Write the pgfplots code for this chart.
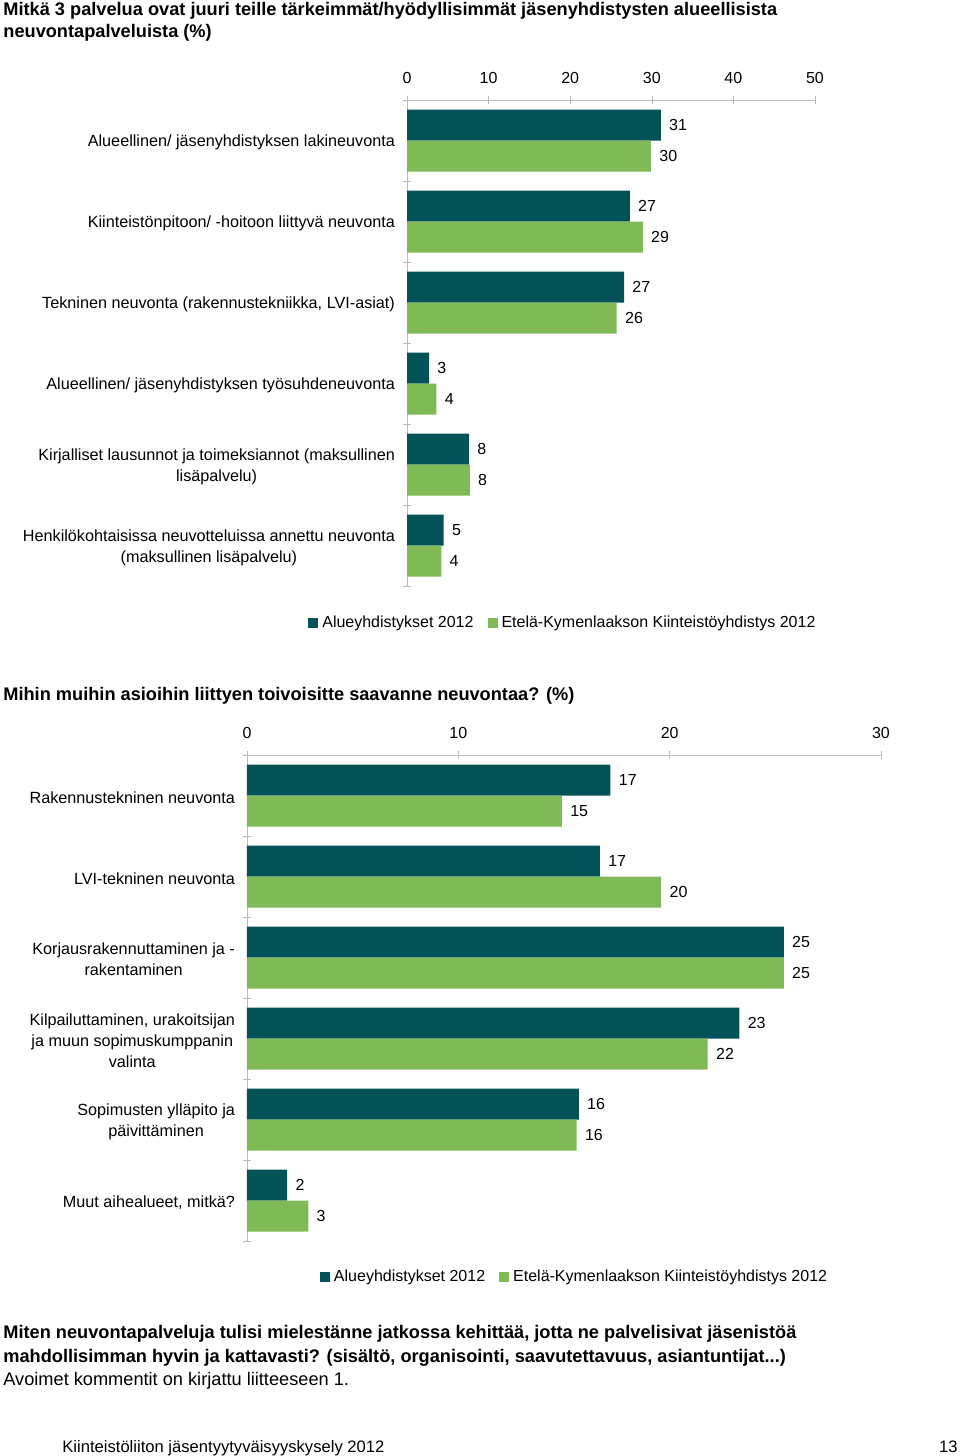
\documentclass[border=0pt]{standalone}
\usepackage{fontspec}
\setmainfont{Liberation Sans}
\usepackage{pgfplots}
\pgfplotsset{compat=1.18}
\definecolor{dk}{RGB}{3,82,88}
\definecolor{lt}{RGB}{128,186,86}
\definecolor{axc}{RGB}{185,185,185}
\newcommand\lf{\fontsize{8}{10.5}\selectfont}
\newcommand\cf{\fontsize{8.1}{10.5}\selectfont}
\newcommand\tf{\fontsize{9.1}{11.5}\selectfont\bfseries}
\newcommand\rf{\fontsize{9.1}{11.5}\selectfont}
\pgfplotsset{
 mybar/.style={
  xbar, scale only axis, bar width=15.5pt,
  axis x line*=top, axis y line*=left,
  axis line style={axc},
  ymin=-0.5, ymax=5.5, xmin=0,
  ytick={0,...,5},
  major y tick style={draw=none},
  minor ytick={-0.5,0.5,...,5.5},
  minor y tick style={axc},
  x tick style={axc},
  tick align=center,
  major tick length=4pt, minor tick length=4pt,
  tick label style={font=\lf},
  xticklabel style={yshift=2.5pt},
  /pgf/number format/assume math mode=true,
  yticklabel style={align=center, xshift=-0.5pt, yshift=-1pt, font=\cf},
  nodes near coords, point meta=explicit symbolic,
  nodes near coords style={font=\lf, anchor=west, inner sep=0pt, xshift=4pt},
  every axis plot/.append style={draw=none},
  legend style={draw=none, font=\lf, legend columns=2, inner sep=0pt,
    /tikz/every even column/.append style={column sep=5pt}},
  legend image code/.code={\fill[##1] (0pt,-2.5pt) rectangle (5pt,2.5pt);},
  clip=false,
 }
}
\begin{document}
\begin{tikzpicture}
\path (0,0) rectangle (480pt,-728pt);
\node[anchor=base west, inner sep=0pt, font=\tf] at (1.5pt,-8pt)
 {Mitkä 3 palvelua ovat juuri teille tärkeimmät/hyödyllisimmät jäsenyhdistysten alueellisista};
\node[anchor=base west, inner sep=0pt, font=\tf] at (1.5pt,-18.75pt)
 {neuvontapalveluista (\%)};

\begin{axis}[mybar,
  at={(203.5pt,-50pt)}, anchor=north west,
  width=204pt, height=243pt,
  xmax=50, xtick={0,10,...,50},
  yticklabels={{Henkilökohtaisissa neuvotteluissa annettu neuvonta\\(maksullinen lisäpalvelu)},
               {Kirjalliset lausunnot ja toimeksiannot (maksullinen\\lisäpalvelu)},
               {Alueellinen/ jäsenyhdistyksen työsuhdeneuvonta},
               {Tekninen neuvonta (rakennustekniikka, LVI-asiat)},
               {Kiinteistönpitoon/ -hoitoon liittyvä neuvonta},
               {Alueellinen/ jäsenyhdistyksen lakineuvonta}},
  legend style={at={(1.012,-0.076)}, anchor=east},
]
\addplot[fill=dk, bar shift=7.75pt] coordinates {(31.1,5) [31] (27.3,4) [27] (26.6,3) [27] (2.7,2) [3] (7.6,1) [8] (4.5,0) [5]};
\addplot[fill=lt, bar shift=-7.75pt] coordinates {(29.9,5) [30] (28.9,4) [29] (25.7,3) [26] (3.6,2) [4] (7.7,1) [8] (4.2,0) [4]};
\legend{Alueyhdistykset 2012, Etelä-Kymenlaakson Kiinteistöyhdistys 2012}
\end{axis}

\node[anchor=base west, inner sep=0pt, font=\tf] at (1.5pt,-350.3pt)
 {Mihin muihin asioihin liittyen toivoisitte saavanne neuvontaa? (\%)};

\begin{axis}[mybar,
  at={(123.5pt,-377.5pt)}, anchor=north west,
  width=317pt, height=243pt,
  xmax=30, xtick={0,10,20,30},
  yticklabels={{Muut aihealueet, mitkä?},
               {Sopimusten ylläpito ja\\päivittäminen},
               {Kilpailuttaminen, urakoitsijan\\ja muun sopimuskumppanin\\valinta},
               {Korjausrakennuttaminen ja -\\rakentaminen},
               {LVI-tekninen neuvonta},
               {Rakennustekninen neuvonta}},
  legend style={at={(0.922,-0.074)}, anchor=east},
]
\addplot[fill=dk, bar shift=7.75pt] coordinates {(17.2,5) [17] (16.7,4) [17] (25.4,3) [25] (23.3,2) [23] (15.7,1) [16] (1.9,0) [2]};
\addplot[fill=lt, bar shift=-7.75pt] coordinates {(14.9,5) [15] (19.6,4) [20] (25.4,3) [25] (21.8,2) [22] (15.6,1) [16] (2.9,0) [3]};
\legend{Alueyhdistykset 2012, Etelä-Kymenlaakson Kiinteistöyhdistys 2012}
\end{axis}

\node[anchor=base west, inner sep=0pt, font=\tf] at (1.5pt,-669pt)
 {Miten neuvontapalveluja tulisi mielestänne jatkossa kehittää, jotta ne palvelisivat jäsenistöä};
\node[anchor=base west, inner sep=0pt, font=\tf] at (1.5pt,-681pt)
 {mahdollisimman hyvin ja kattavasti? (sisältö, organisointi, saavutettavuus, asiantuntijat...)};
\node[anchor=base west, inner sep=0pt, font=\rf] at (1.5pt,-692.5pt)
 {Avoimet kommentit on kirjattu liitteeseen 1.};
\node[anchor=base west, inner sep=0pt, font=\fontsize{8.3}{10}\selectfont] at (31pt,-726pt)
 {Kiinteistöliiton jäsentyytyväisyyskysely 2012};
\node[anchor=base east, inner sep=0pt, font=\fontsize{8.3}{10}\selectfont] at (479pt,-726pt) {13};
\end{tikzpicture}
\end{document}
